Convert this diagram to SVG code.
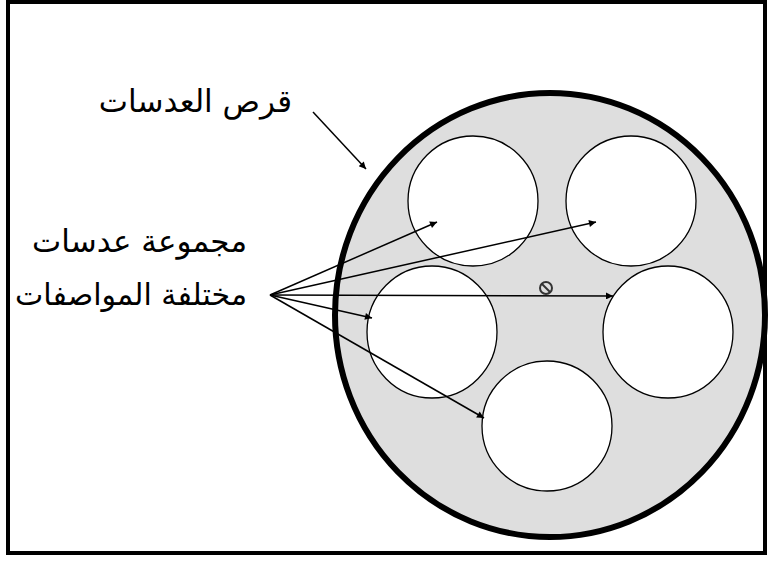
<svg xmlns="http://www.w3.org/2000/svg" width="769" height="561" viewBox="0 0 769 561">
<defs>
<marker id="ah" viewBox="0 0 10 10" refX="10" refY="5" markerWidth="9" markerHeight="7" markerUnits="userSpaceOnUse" orient="auto"><path d="M0,0 L10,5 L0,10 z" fill="#000"/></marker>
<style>
.lens{fill:#fff;stroke:#000;stroke-width:1.3}
.con{stroke:#000;stroke-width:1.5;fill:none;marker-end:url(#ah)}
.lbl{font-family:"DejaVu Sans",sans-serif;font-size:31px;fill:#000;text-anchor:end}
</style>
</defs>
<rect x="8" y="2" width="757" height="551" fill="#fff" stroke="#000" stroke-width="4"/>
<g id="disk">
<ellipse cx="550" cy="315" rx="215" ry="222" fill="#dedede" stroke="#000" stroke-width="6"/>
</g>
<g id="lens1"><ellipse class="lens" cx="473" cy="201" rx="65" ry="65"/></g>
<g id="lens2"><ellipse class="lens" cx="631" cy="201" rx="65" ry="65"/></g>
<g id="lens3"><ellipse class="lens" cx="432" cy="332" rx="65" ry="66"/></g>
<g id="lens4"><ellipse class="lens" cx="668" cy="332" rx="65" ry="66"/></g>
<g id="lens5"><ellipse class="lens" cx="547" cy="426" rx="65" ry="65"/></g>
<g id="pivot">
<circle cx="546" cy="288" r="6" fill="none" stroke="#333" stroke-width="2"/>
<line x1="542" y1="284" x2="550" y2="292" stroke="#333" stroke-width="2"/>
</g>
<g id="connectors">
<line class="con" x1="313" y1="112" x2="366" y2="169"/>
<line class="con" x1="270" y1="295" x2="437" y2="222"/>
<line class="con" x1="270" y1="295" x2="596" y2="222"/>
<line class="con" x1="270" y1="295" x2="613" y2="296"/>
<line class="con" x1="270" y1="295" x2="372" y2="318"/>
<line class="con" x1="270" y1="295" x2="484" y2="418"/>
</g>
<g id="labels">
<text class="lbl" x="292" y="112">قرص العدسات</text>
<text class="lbl" x="247" y="252">مجموعة عدسات</text>
<text class="lbl" x="247" y="305" style="font-size:30px">مختلفة المواصفات</text>
</g>
</svg>
